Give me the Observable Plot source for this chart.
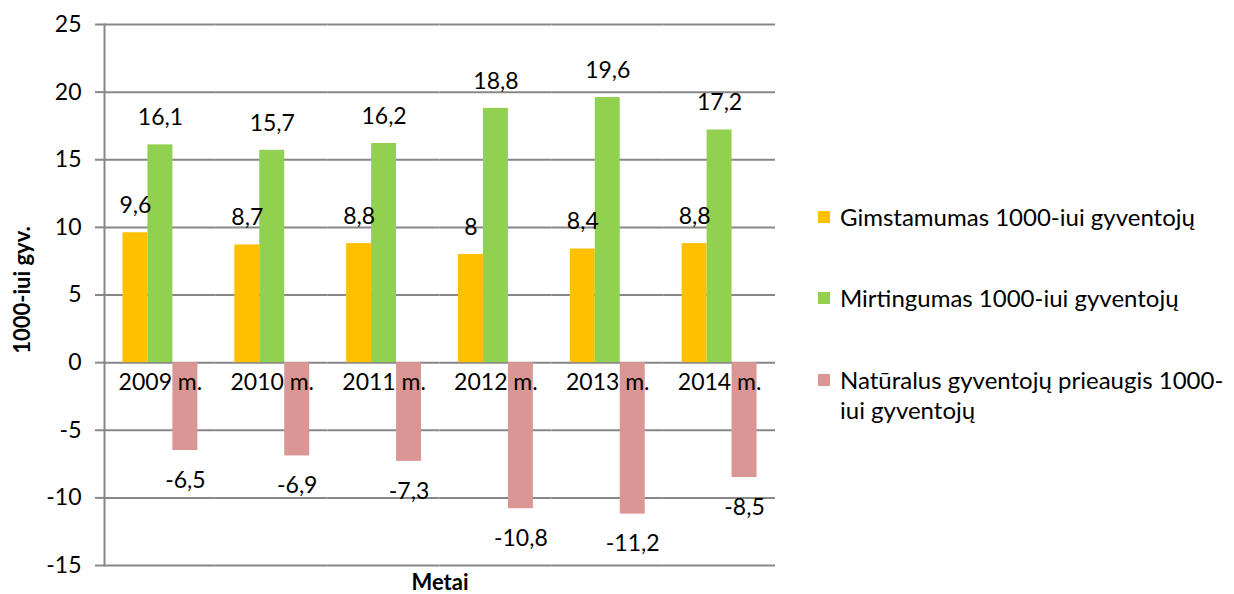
<!DOCTYPE html>
<html><head><meta charset="utf-8">
<script src="https://cdn.jsdelivr.net/npm/d3@7"></script>
<script src="https://cdn.jsdelivr.net/npm/@observablehq/plot@0.6"></script>
<style>
body{margin:0;background:#fff;font-family:Lato,"Noto Sans",sans-serif;color:#000;}
#wrap{position:relative;width:1234px;height:594px;overflow:hidden;}
#chart{position:absolute;left:0;top:0;}
.ytitle{position:absolute;left:22px;top:290px;transform:translate(-50%,-50%) rotate(-90deg);font-weight:bold;font-size:22px;line-height:1;white-space:nowrap;}
.xtitle{position:absolute;left:440px;top:582px;transform:translate(-50%,-50%);font-weight:bold;font-size:22px;line-height:1;white-space:nowrap;}
.legend{position:absolute;left:818px;top:0;font-size:24px;line-height:30px;}
.item{position:absolute;left:0;white-space:nowrap;}
.sw{position:absolute;left:0;width:12px;height:12px;}
.lt{position:absolute;left:22px;top:0;}
</style></head><body>
<div id="wrap">
<div id="chart"></div>
<div class="ytitle">1000-iui gyv.</div>
<div class="xtitle">Metai</div>
<div class="legend" id="legend"></div>
</div>
<script>
const years = ["2009", "2010", "2011", "2012", "2013", "2014"];
const yearLabels = ["2009 m.", "2010 m.", "2011 m.", "2012 m.", "2013 m.", "2014 m."];
const seriesNames = ["Gimstamumas 1000-iui gyventojų", "Mirtingumas 1000-iui gyventojų", "Natūralus gyventojų prieaugis 1000-iui gyventojų"];
const birthRate = [9.6, 8.7, 8.8, 8.0, 8.4, 8.8];
const deathRate = [16.1, 15.7, 16.2, 18.8, 19.6, 17.2];
const naturalGrowth = [-6.5, -6.9, -7.3, -10.8, -11.2, -8.5];
const yTicks = [-15, -10, -5, 0, 5, 10, 15, 20, 25];
const colors = ["#FFC000", "#92D050", "#D99694"];

const seriesValues = [birthRate, deathRate, naturalGrowth];
const rows = [];
years.forEach((y, i) => seriesNames.forEach((s, j) => rows.push({year: y, series: s, value: seriesValues[j][i]})));
const fmt = v => String(v).replace(".", ",");
const grid = "#878787";

const plot = Plot.plot({
  width: 790, height: 594,
  marginTop: 24, marginBottom: 29, marginLeft: 104, marginRight: 15,
  style: {fontFamily: "Lato, 'Noto Sans', sans-serif", fontSize: "23px", color: "#000", background: "transparent", overflow: "visible"},
  fx: {domain: years, padding: 0, round: false, axis: null},
  x: {domain: seriesNames, paddingInner: 0, paddingOuter: 0.74, round: false, axis: null},
  y: {domain: [-15, 25], axis: null},
  color: {domain: seriesNames, range: colors},
  marks: [
    Plot.gridY(yTicks, {stroke: grid, strokeOpacity: 1, strokeWidth: 2}),
    Plot.axisY(yTicks, {tickSize: 9, tickPadding: 14, stroke: grid, strokeWidth: 2, tickFormat: d => String(d), label: null, fontSize: 23}),
    Plot.frame({anchor: "left", facetAnchor: "left", stroke: grid, strokeWidth: 2}),
    Plot.barY(rows, {fx: "year", x: "series", y: "value", fill: "series"}),
    Plot.text(yearLabels, {fx: (d, i) => years[i], y: d => 0, dy: 20, text: d => d, fontSize: 23}),
    Plot.text(rows.filter(d => d.value >= 0), {fx: "year", x: "series", y: "value", dy: -27, text: d => fmt(d.value), fontSize: 23}),
    Plot.text(rows.filter(d => d.value < 0), {fx: "year", x: "series", y: "value", dy: 30, text: d => fmt(d.value), fontSize: 23})
  ]
});
document.getElementById("chart").appendChild(plot);

const legendTops = [202, 283, 365];
const legendLabels = ["Gimstamumas 1000-iui gyventojų", "Mirtingumas 1000-iui gyventojų", "Natūralus gyventojų prieaugis 1000-<br>iui gyventojų"];
const lg = document.getElementById("legend");
seriesNames.forEach((s, i) => {
  const it = document.createElement("div");
  it.className = "item";
  it.style.top = legendTops[i] + "px";
  it.innerHTML = `<div class="sw" style="background:${colors[i]};top:9px"></div><div class="lt">${legendLabels[i]}</div>`;
  lg.appendChild(it);
});
</script>
</body></html>
